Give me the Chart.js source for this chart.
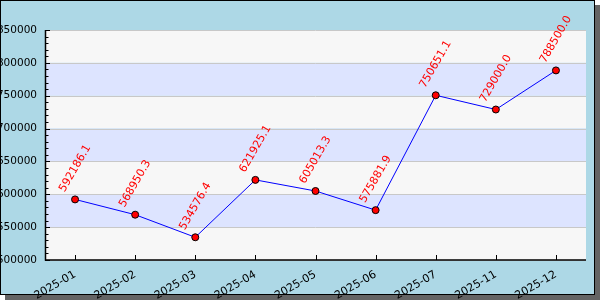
<!DOCTYPE html>
<html><head><meta charset="utf-8">
<script src="https://cdn.jsdelivr.net/npm/chart.js@4"></script>
<style>
html,body{margin:0;padding:0;background:#fff;width:600px;height:300px;overflow:hidden}
#frame{position:absolute;left:0;top:0;width:593px;height:293px;background:#add8e6;border:1px solid #000;box-shadow:5px 5px 0 #646464;}
#wrap{position:absolute;left:0;top:0;width:600px;height:300px}
</style></head><body>
<div id="frame"></div>
<div id="wrap"><canvas id="c" width="600" height="300"></canvas></div>
<script>
const categories = ['2025-01','2025-02','2025-03','2025-04','2025-05','2025-06','2025-07','2025-11','2025-12'];
const values = [592186.1, 568950.3, 534576.4, 621925.1, 605013.3, 575881.9, 750651.1, 729000.0, 788500.0];
const yTicks = [500000, 550000, 600000, 650000, 700000, 750000, 800000, 850000];
const yMinorStep = 10000;

const FONT = '"DejaVu Sans", sans-serif';

const decor = {
  id: 'decor',
  beforeDatasetsDraw(chart) {
    const ctx = chart.ctx, y = chart.scales.y, a = chart.chartArea;
    ctx.save();
    for (let i = yTicks.length - 1; i > 0; i--) {
      const top = y.getPixelForValue(yTicks[i]), bot = y.getPixelForValue(yTicks[i - 1]);
      const idxFromTop = yTicks.length - 1 - i;
      ctx.fillStyle = idxFromTop % 2 === 0 ? '#f7f7f7' : '#dde4ff';
      ctx.fillRect(a.left, top, a.right - a.left, bot - top);
    }
    ctx.strokeStyle = '#c8c8c8'; ctx.lineWidth = 1;
    yTicks.forEach(v => {
      const p = Math.round(y.getPixelForValue(v)) + 0.5;
      ctx.beginPath(); ctx.moveTo(a.left, p); ctx.lineTo(a.right, p); ctx.stroke();
    });
    ctx.restore();
  },
  afterDatasetsDraw(chart) {
    const ctx = chart.ctx, y = chart.scales.y, x = chart.scales.x, a = chart.chartArea;
    ctx.save();
    ctx.strokeStyle = '#000'; ctx.lineWidth = 1.5;
    ctx.beginPath(); ctx.moveTo(a.left + 0.5, a.top); ctx.lineTo(a.left + 0.5, a.bottom); ctx.lineTo(a.right, a.bottom); ctx.stroke();
    ctx.lineWidth = 1;
    const lo = yTicks[0], hi = yTicks[yTicks.length - 1];
    for (let v = lo; v <= hi; v += yMinorStep) {
      const p = Math.round(y.getPixelForValue(v)) + 0.5;
      const major = yTicks.includes(v);
      ctx.beginPath(); ctx.moveTo(a.left, p); ctx.lineTo(a.left + (major ? 5 : 3.5), p); ctx.stroke();
    }
    categories.forEach((c, i) => {
      const p = Math.round(x.getPixelForValue(i)) + 0.5;
      ctx.beginPath(); ctx.moveTo(p, a.bottom); ctx.lineTo(p, a.bottom - 5); ctx.stroke();
    });
    ctx.restore();
    const meta = chart.getDatasetMeta(0);
    ctx.save();
    ctx.font = '11px ' + FONT; ctx.fillStyle = '#ff0000';
    ctx.textAlign = 'center'; ctx.textBaseline = 'middle';
    const th = 60 * Math.PI / 180, h = 13;
    meta.data.forEach((pt, i) => {
      const txt = values[i].toFixed(1);
      const w = ctx.measureText(txt).width;
      const bh = w * Math.sin(th) + h * Math.cos(th);
      ctx.save();
      ctx.translate(pt.x, pt.y - 5 - bh / 2);
      ctx.rotate(-th);
      ctx.fillText(txt, 0, 0);
      ctx.restore();
    });
    ctx.restore();
  }
};

new Chart(document.getElementById('c'), {
  type: 'line',
  data: {
    labels: categories,
    datasets: [{
      data: values,
      borderColor: '#0000ff', borderWidth: 1, tension: 0,
      pointRadius: 3.5, pointHoverRadius: 3.5,
      pointBackgroundColor: '#ff0000', pointBorderColor: '#000', pointBorderWidth: 1
    }]
  },
  options: {
    responsive: false, animation: false, devicePixelRatio: 1,
    layout: { padding: { left: 0, top: 30, right: 14, bottom: 0 } },
    plugins: { legend: { display: false }, tooltip: { enabled: false } },
    scales: {
      x: {
        offset: true,
        grid: { display: false, drawTicks: false },
        border: { display: false },
        ticks: { color: '#000', font: { family: FONT, size: 11 }, minRotation: 30, maxRotation: 30, autoSkip: false, padding: 8 },
        afterFit(s) { s.height = 40; }
      },
      y: {
        min: yTicks[0], max: yTicks[yTicks.length - 1],
        grid: { display: false, drawTicks: false },
        border: { display: false },
        afterBuildTicks(s) { s.ticks = yTicks.map(v => ({ value: v })); },
        ticks: { color: '#000', font: { family: FONT, size: 10.5 }, padding: 8, callback: v => String(v) },
        afterFit(s) { s.width = 45; }
      }
    }
  },
  plugins: [decor]
});
</script>
</body></html>
